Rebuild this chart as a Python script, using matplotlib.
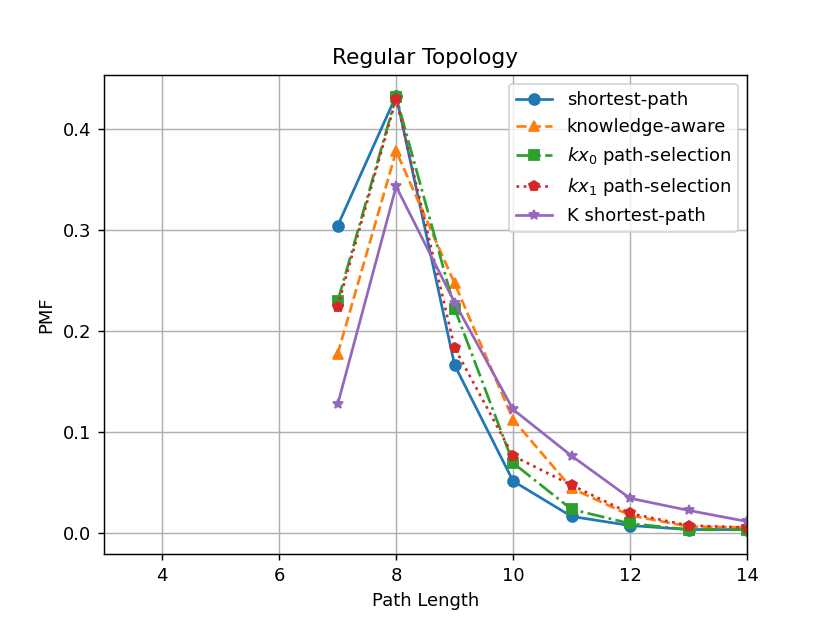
import numpy as np
import matplotlib.pyplot as plt

path_len = [7, 8, 9, 10, 11, 12, 13, 14]

shortest = [0.304, 0.433, 0.166, 0.051, 0.016, 0.007, 0.003, 0.003]
knowledge = [0.177, 0.378, 0.247, 0.112, 0.044, 0.017, 0.006, 0.005]
kx0 = [0.229, 0.432, 0.222, 0.069, 0.023, 0.009, 0.003, 0.003]
kx1 = [0.224, 0.430, 0.183, 0.076, 0.047, 0.019, 0.007, 0.005]
k_shortest = [0.127, 0.343, 0.228, 0.122, 0.076, 0.034, 0.022, 0.011]

fig = plt.figure(figsize=(830/130, 623/130), dpi=130)

plt.plot(path_len, shortest, marker='o', linestyle='-', label='shortest-path')
plt.plot(path_len, knowledge, marker='^', linestyle='--', label='knowledge-aware')
plt.plot(path_len, kx0, marker='s', linestyle='-.', label='$kx_0$ path-selection')
plt.plot(path_len, kx1, marker='p', linestyle=':', label='$kx_1$ path-selection')
plt.plot(path_len, k_shortest, marker='*', linestyle='-', label='K shortest-path')

plt.xlim(3, 14)
plt.ylim(-0.0217, 0.4537)
plt.grid(True)
plt.legend(loc='upper right')
plt.xlabel('Path Length')
plt.ylabel('PMF')
plt.title('Regular Topology')

plt.savefig('out.png', dpi=130)
